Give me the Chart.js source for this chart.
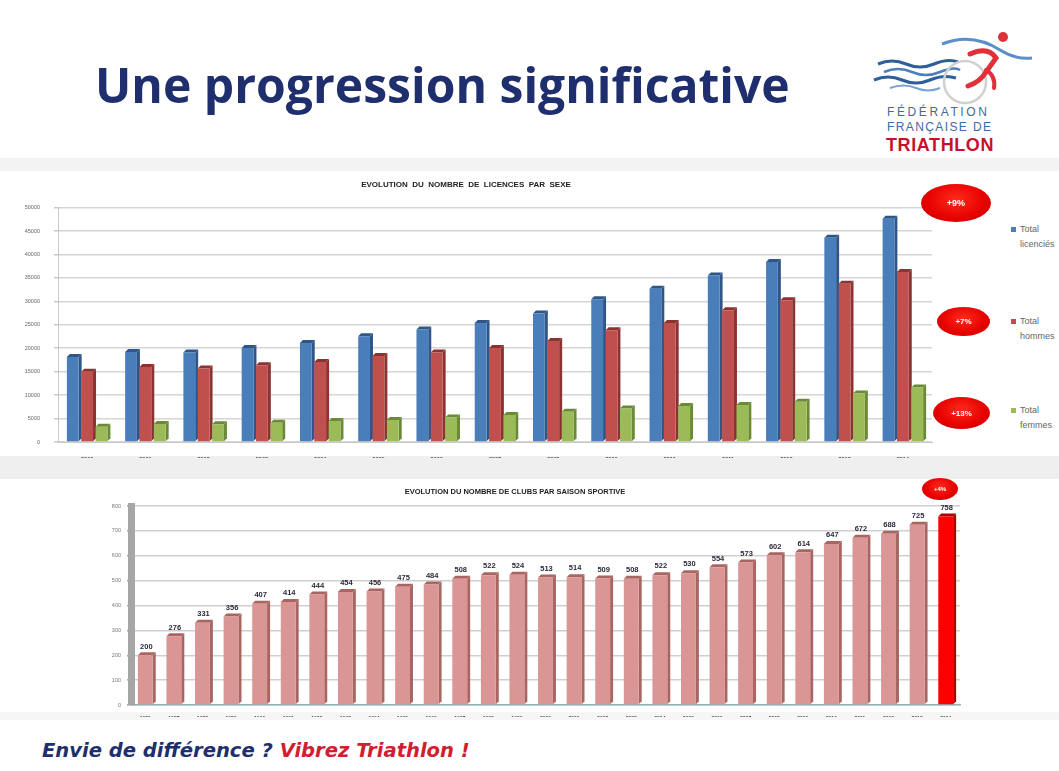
<!DOCTYPE html>
<html lang="fr">
<head>
<meta charset="utf-8">
<title>Une progression significative</title>
<script src="https://cdn.jsdelivr.net/npm/chart.js@4.4.0/dist/chart.umd.min.js"></script>
<style>
    html, body { margin: 0; padding: 0; background: #fff; }
    body { width: 1059px; height: 771px; position: relative; overflow: hidden; font-family: "Open Sans", Arial, sans-serif; }
    .band { position: absolute; left: 0; width: 1059px; background: #efefef; }
    #title { position: absolute; left: 95px; top: 52px; font-weight: 700; font-size: 48px; color: #1f2f6e; white-space: nowrap; transform-origin: 0 0; }
    canvas { position: absolute; }
    #licences-chart { left: 0; top: 172px; }
    #clubs-chart { left: 70px; top: 480px; }
    .pill { position: absolute; border-radius: 50%; background: radial-gradient(ellipse at 50% 40%, #ff2a1a 0%, #e50000 60%, #c80000 100%);
            color: #fff; font: bold 8px Arial, sans-serif; display: flex; align-items: center; justify-content: center; }
    .leg { position: absolute; font: 9px Arial, sans-serif; color: #666; line-height: 15px; }
    .leg i { position: absolute; left: -9px; top: 5px; width: 5px; height: 5px; }
    #footer { position: absolute; left: 42px; top: 738px; font-family: "DejaVu Sans Condensed", "DejaVu Sans", sans-serif; font-style: italic; font-weight: 700; font-size: 20px; white-space: nowrap; transform-origin: 0 0; }
</style>
</head>
<body>

<div class="band" style="top:158px;height:13px;background:#f3f3f3;"></div>
<div class="band" style="top:456px;height:23px;"></div>
<div class="band" style="top:712px;height:8px;background:#f6f6f6;"></div>

<div id="title">Une progression significative</div>

<!-- logo -->
<svg style="position:absolute;left:860px;top:20px;" width="199" height="140" viewBox="0 0 199 140">
    <path d="M18 44 q14 -6 28 0 t28 0 t24 -2" fill="none" stroke="#2f5f9a" stroke-width="3"/>
    <path d="M24 52 q14 -6 28 0 t28 0 t20 -2" fill="none" stroke="#4d7fbf" stroke-width="2.5"/>
    <path d="M14 60 q14 -6 28 0 t28 0 t26 -2" fill="none" stroke="#2f5f9a" stroke-width="3"/>
    <path d="M30 68 q14 -5 26 0 t24 0" fill="none" stroke="#7aa3d4" stroke-width="2"/>
    <circle cx="105" cy="62" r="21" fill="none" stroke="#d0d0d0" stroke-width="2.5"/>
    <path d="M82 24 q30 -12 58 6 q16 10 32 8" fill="none" stroke="#5a8fc9" stroke-width="3"/>
    <circle cx="143" cy="17" r="5" fill="#e0303a"/>
    <path d="M110 34 q18 -8 26 4 l-10 14 q-6 10 -18 14" fill="none" stroke="#e0303a" stroke-width="5" stroke-linecap="round"/>
    <path d="M126 50 q10 6 8 18" fill="none" stroke="#e0303a" stroke-width="4" stroke-linecap="round"/>
    <text x="27" y="96" font-family="Arial" font-size="12" letter-spacing="2.6" fill="#3f6aa0">FÉDÉRATION</text>
    <text x="27" y="111" font-family="Arial" font-size="12" letter-spacing="1.4" fill="#3f6aa0">FRANÇAISE DE</text>
    <text x="26" y="131" font-family="Arial" font-weight="bold" font-size="18" letter-spacing="0.6" fill="#c8102e">TRIATHLON</text>
</svg>

<canvas id="licences-chart" width="945" height="292"></canvas>
<canvas id="clubs-chart" width="900" height="240"></canvas>

<div id="legend"></div>

<div class="pill" style="left:921px;top:184px;width:70px;height:38px;font-size:9px;">+9%</div>
<div class="pill" style="left:937px;top:307px;width:53px;height:29px;">+7%</div>
<div class="pill" style="left:933px;top:397px;width:57px;height:32px;">+13%</div>
<div class="pill" style="left:922px;top:478px;width:36px;height:22px;font-size:6px;">+4%</div>

<div id="footer"><span style="color:#1f2f6e;">Envie de différence ?</span> <span style="color:#d0202f;">Vibrez Triathlon !</span></div>

<script>
// ── Data ──────────────────────────────
const licenceYears = ['2000', '2001', '2002', '2003', '2004', '2005', '2006', '2007', '2008', '2009', '2010', '2011', '2012', '2013', '2014'];
const totalLicencies = [18150, 19220, 19080, 20070, 21130, 22560, 23980, 25390, 27390, 30430, 32710, 35540, 38370, 43560, 47600];
const totalHommes = [14960, 16020, 15680, 16390, 17090, 18370, 19080, 20070, 21560, 23830, 25390, 28090, 30220, 33770, 36240];
const totalFemmes = [3260, 3830, 3800, 4110, 4470, 4680, 5250, 5750, 6450, 7170, 7660, 7870, 8580, 10360, 11640];
const seriesNames = ['Total licenciés', 'Total hommes', 'Total femmes'];

const clubYears = ['1986', '1987', '1988', '1989', '1990', '1991', '1992', '1993', '1994', '1995', '1996', '1997', '1998', '1999', '2000',
    '2001', '2002', '2003', '2004', '2005', '2006', '2007', '2008', '2009', '2010', '2011', '2012', '2013', '2014'];
const clubCounts = [200, 276, 331, 356, 407, 414, 444, 454, 456, 475, 484, 508, 522, 524, 513, 514, 509, 508, 522, 530, 554, 573, 602, 614, 647, 672, 688, 725, 758];

// ── Text fit ──────────────────────────
function fitWidth(id, w) {
    const el = document.getElementById(id);
    el.style.transform = 'scaleX(' + (w / el.offsetWidth) + ')';
}
fitWidth('title', 695);
fitWidth('footer', 428);

// ── Plugins ───────────────────────────
// fake 3D: side + top face behind each bar
const depthPlugin = {
    id: 'depth',
    beforeDatasetsDraw(chart, args, opts) {
        const ctx = chart.ctx;
        const d = opts.depth || 3;
        chart.data.datasets.forEach((ds, di) => {
            chart.getDatasetMeta(di).data.forEach((bar, i) => {
                const { x, y, base, width } = bar.getProps(['x', 'y', 'base', 'width'], true);
                const l = x - width / 2, r = x + width / 2;
                ctx.save();
                ctx.fillStyle = Array.isArray(ds.sideColor) ? ds.sideColor[i] : ds.sideColor;
                ctx.beginPath();
                ctx.moveTo(r, base); ctx.lineTo(r, y); ctx.lineTo(r + d, y - d); ctx.lineTo(r + d, base - d);
                ctx.closePath(); ctx.fill();
                ctx.beginPath();
                ctx.moveTo(l, y); ctx.lineTo(l + d, y - d); ctx.lineTo(r + d, y - d); ctx.lineTo(r, y);
                ctx.closePath(); ctx.fill();
                ctx.restore();
            });
        });
    }
};

const valueLabels = {
    id: 'valueLabels',
    afterDatasetsDraw(chart) {
        const ctx = chart.ctx;
        const meta = chart.getDatasetMeta(0);
        const vals = chart.data.datasets[0].data;
        ctx.save();
        ctx.font = 'bold 7.5px Arial';
        ctx.fillStyle = '#2a2a3a';
        ctx.textAlign = 'center';
        ctx.textBaseline = 'bottom';
        meta.data.forEach((bar, i) => ctx.fillText(vals[i], bar.x + 1, bar.y - 5));
        ctx.restore();
    }
};

// ── Licences chart ────────────────────
const colBlue = '#4a7ebb', colRed = '#c0504d', colGreen = '#9bbb59';
new Chart(document.getElementById('licences-chart'), {
    type: 'bar',
    data: {
        labels: licenceYears,
        datasets: [
            { label: seriesNames[0], data: totalLicencies, backgroundColor: colBlue, sideColor: '#2f5687' },
            { label: seriesNames[1], data: totalHommes, backgroundColor: colRed, sideColor: '#8a3330' },
            { label: seriesNames[2], data: totalFemmes, backgroundColor: colGreen, sideColor: '#6a8a36' }
        ]
    },
    options: {
        responsive: false, animation: false,
        layout: { padding: { left: 0, right: 13, top: 0, bottom: 6 } },
        datasets: { bar: { categoryPercentage: 0.74, barPercentage: 0.82 } },
        plugins: {
            legend: { display: false }, tooltip: { enabled: false },
            title: { display: true, text: 'EVOLUTION  DU  NOMBRE  DE  LICENCES  PAR  SEXE', color: '#222', font: { family: 'Arial', size: 8, weight: 'bold' }, padding: { top: 8, bottom: 18 } },
            depth: { depth: 3 }
        },
        scales: {
            x: {
                afterFit: s => { s.height = 16; },
                grid: { display: false },
                border: { color: '#c8c8c8' },
                ticks: { color: '#444', font: { family: 'Arial', size: 5.5, weight: 'bold' }, padding: 6 }
            },
            y: {
                min: 0, max: 50000,
                afterFit: s => { s.width = 58; },
                border: { color: '#c8c8c8' },
                grid: { color: '#d6d6d6', lineWidth: 1.5, tickLength: 4, tickColor: '#c8c8c8' },
                ticks: { stepSize: 5000, color: '#666', font: { family: 'Arial', size: 5.5 }, padding: 14, callback: v => String(v) }
            }
        }
    },
    plugins: [depthPlugin]
});

// custom legend (spread vertically like the slide)
const legendTops = [222, 314, 403];
const legendColors = [colBlue, colRed, colGreen];
document.getElementById('legend').innerHTML = seriesNames.map((n, i) => {
    const parts = n.split(' ');
    return `<div class="leg" style="left:1020px;top:${legendTops[i]}px;"><i style="background:${legendColors[i]}"></i>${parts[0]}<br>${parts.slice(1).join(' ')}</div>`;
}).join('');

// ── Clubs chart ───────────────────────
const last = clubCounts.length - 1;
new Chart(document.getElementById('clubs-chart'), {
    type: 'bar',
    data: {
        labels: clubYears,
        datasets: [{
            label: 'Clubs',
            data: clubCounts,
            backgroundColor: clubCounts.map((v, i) => i === last ? '#ff0000' : '#d99694'),
            sideColor: clubCounts.map((v, i) => i === last ? '#b00000' : '#a86562')
        }]
    },
    options: {
        responsive: false, animation: false,
        layout: { padding: { left: 0, right: 10, top: 0, bottom: 3 } },
        datasets: { bar: { categoryPercentage: 1, barPercentage: 0.52 } },
        plugins: {
            legend: { display: false }, tooltip: { enabled: false },
            title: { display: true, text: 'EVOLUTION DU NOMBRE DE CLUBS PAR SAISON SPORTIVE', color: '#222', font: { family: 'Arial', size: 7.5, weight: 'bold' }, padding: { top: 7, bottom: 10 } },
            depth: { depth: 3 }
        },
        scales: {
            x: {
                afterFit: s => { s.height = 12; },
                grid: { display: false },
                border: { color: '#8fb3b8', width: 1.5 },
                ticks: { color: '#444', font: { family: 'Arial', size: 5, weight: 'bold' }, padding: 3, autoSkip: false, maxRotation: 0 }
            },
            y: {
                min: 0, max: 800,
                afterFit: s => { s.width = 61; },
                border: { color: '#a6a6a6', width: 7 },
                grid: { color: '#cfcfcf', lineWidth: 1.5, tickLength: 4, tickColor: '#a6a6a6' },
                ticks: { stepSize: 100, color: '#777', font: { family: 'Arial', size: 5.5 }, padding: 6 }
            }
        }
    },
    plugins: [depthPlugin, valueLabels]
});
</script>
</body>
</html>
